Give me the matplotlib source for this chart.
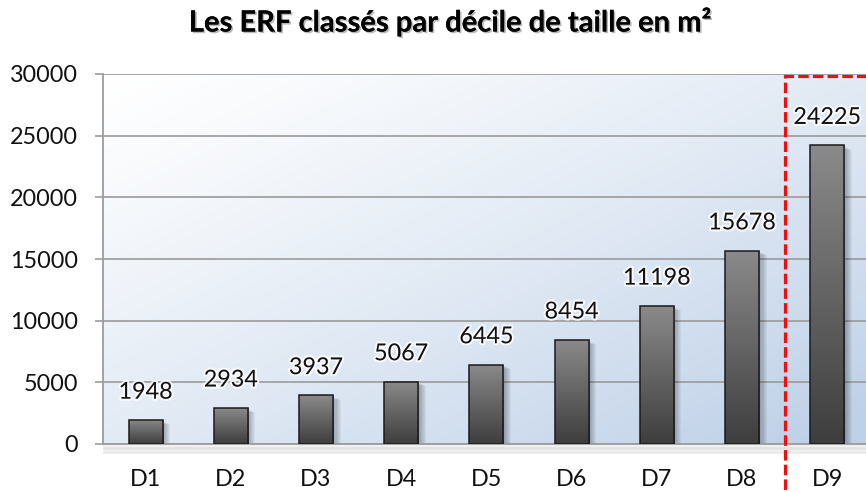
"""Bar chart of ERF counts by size decile, with the top decile boxed."""

import matplotlib

matplotlib.use("Agg")
import matplotlib.pyplot as plt  # noqa: E402
import matplotlib.patheffects as pe  # noqa: E402
import numpy as np  # noqa: E402
from matplotlib.colors import LinearSegmentedColormap  # noqa: E402
from matplotlib.patches import Rectangle  # noqa: E402
from matplotlib.transforms import offset_copy  # noqa: E402

deciles = ["D1", "D2", "D3", "D4", "D5", "D6", "D7", "D8", "D9"]
counts = [1948, 2934, 3937, 5067, 6445, 8454, 11198, 15678, 24225]
y_ticks = [0, 5000, 10000, 15000, 20000, 25000, 30000]
title = "Les ERF classés par décile de taille en m²"
highlight_from = "D9"

plt.rcParams["font.family"] = ["Lato", "DejaVu Sans"]
FS = 16.8

W, H = 866, 492
fig = plt.figure(figsize=(W / 100, H / 100), dpi=100)
fig.patch.set_facecolor("white")

# axes spans 10 category bands; the last one runs off the right edge
band_px = 85.2
ax = fig.add_axes([103 / W, 1 - 444 / H, 10 * band_px / W, 370 / H])

# diagonal white (top left) -> pale blue (bottom right) plot background
gx, gy = np.meshgrid(np.linspace(0, 1, 200), np.linspace(0, 1, 120))
diag = np.clip((gx * 0.9 + gy * 0.8) / 1.55, 0, 1) ** 1.2
bg_cmap = LinearSegmentedColormap.from_list("bg", ["#ffffff", "#bfd1e8"])
ax.imshow(diag, cmap=bg_cmap, extent=(-0.5, 9.5, 0, 30000), origin="upper",
          aspect="auto", zorder=0, interpolation="bilinear")

for spine in ["top", "right"]:
    ax.spines[spine].set_visible(False)
for spine in ["left", "bottom"]:
    ax.spines[spine].set_color("#9c9c9c")
    ax.spines[spine].set_linewidth(1.3)

ax.set_yticks(y_ticks)
ax.set_yticklabels([str(v) for v in y_ticks])
ax.yaxis.grid(True, color="#9a9a9a", linewidth=1.2, zorder=1)
ax.set_axisbelow(True)
ax.tick_params(axis="y", length=6, width=1.2, color="#9c9c9c", pad=12,
               labelsize=FS, labelcolor="#111111")
x = np.arange(len(deciles))
ax.set_xticks(x)
ax.set_xticklabels(deciles)
ax.tick_params(axis="x", length=0, pad=18, labelsize=FS, labelcolor="#111111")

# soft shadow under the zero line
for i in range(7):
    ax.plot([-0.5, 9.5], [0, 0], color="black", alpha=0.05, linewidth=1.5,
            transform=offset_copy(ax.transData, fig=fig, y=-(i + 1) * 0.9,
                                  units="points"),
            clip_on=False, zorder=1.5, solid_capstyle="butt")

bar_w = 0.4
bars = ax.bar(x, counts, width=bar_w, color="none", edgecolor="#1a1a1a",
              linewidth=1.1, zorder=4)

bar_cmap = LinearSegmentedColormap.from_list("bar", ["#3e3e3e", "#8a8a8a"])
for rect, value in zip(bars, counts):
    x0 = rect.get_x()
    # blurred drop shadow to the right and below
    for i in range(7):
        sh = Rectangle((x0, 0), bar_w, value, facecolor="black", alpha=0.045,
                       edgecolor="none", zorder=2,
                       transform=offset_copy(ax.transData, fig=fig,
                                             x=1.0 + i * 0.75, y=-1.0 - i * 0.35,
                                             units="points"))
        ax.add_patch(sh)
    grad = ax.imshow(np.linspace(0, 1, 64).reshape(-1, 1), cmap=bar_cmap,
                     extent=(x0, x0 + bar_w, 0, value), aspect="auto",
                     origin="lower", zorder=3, interpolation="bilinear")
    grad.set_clip_path(rect)
    ax.annotate(str(value), (rect.get_x() + bar_w / 2, value),
                xytext=(0, 20), textcoords="offset points", ha="center",
                va="center", fontsize=FS, color="#111111", zorder=5,
                path_effects=[pe.withStroke(linewidth=3, foreground="white",
                                            alpha=0.8)])
ax.set_xlim(-0.5, 9.5)
ax.set_ylim(0, 30000)

# red dashed frame around the top decile
hx = deciles.index(highlight_from) - 0.5
frame = Rectangle((hx, -8000), 3, 29860 + 8000, fill=False,
                  edgecolor="#ee1010", linewidth=2.3,
                  linestyle=(0, (3.3, 1.3)), clip_on=False, zorder=6)
ax.add_patch(frame)

fig.text(450 / W, 1 - 22 / H, title, ha="center", va="center", fontsize=21,
         fontweight="bold", color="black",
         path_effects=[pe.withSimplePatchShadow(offset=(1.2, -1.2),
                                                shadow_rgbFace="#777777",
                                                alpha=0.5), pe.Normal()])

fig.savefig("out.png", dpi=100, facecolor=fig.get_facecolor())
